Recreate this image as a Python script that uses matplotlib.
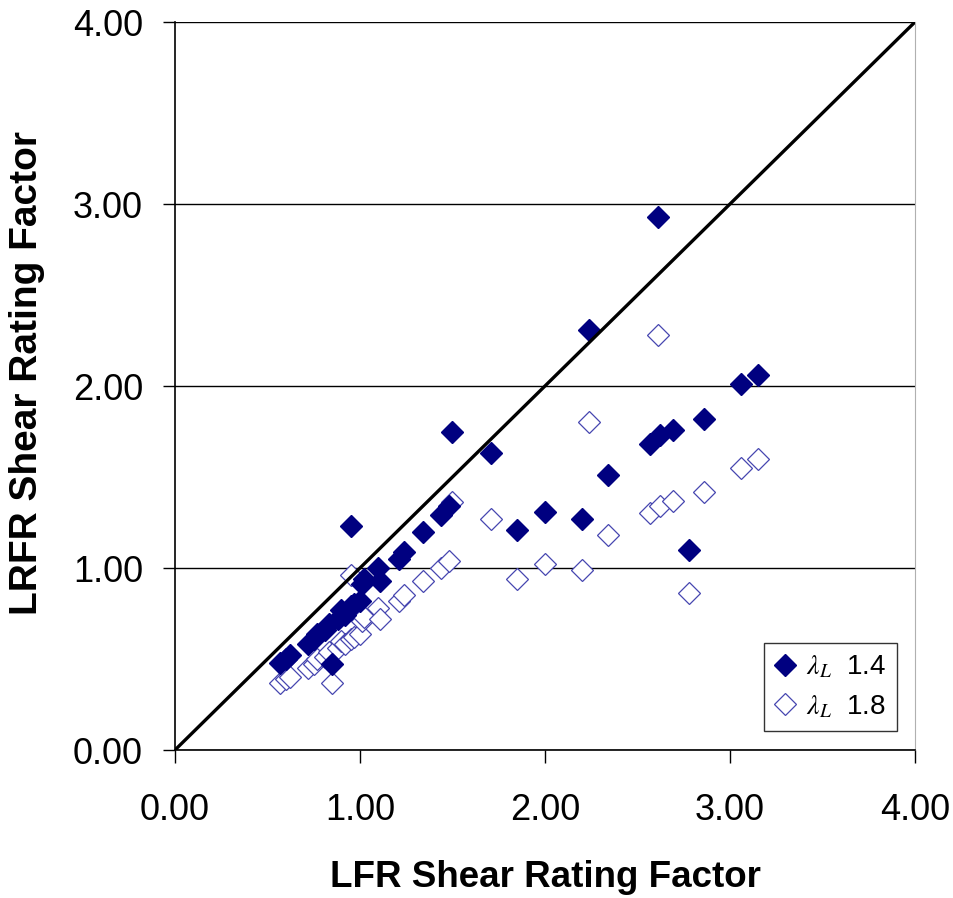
import numpy as np
import matplotlib.pyplot as plt

plt.rcParams['font.family'] = ['Liberation Sans', 'DejaVu Sans']
plt.rcParams['mathtext.fontset'] = 'stix'

# LFR shear rating factor (x) vs LRFR shear rating factor (y)
lfr_14 = [0.57, 0.60, 0.62, 0.72, 0.75, 0.77, 0.81, 0.83, 0.85, 0.88, 0.90, 0.92,
          0.95, 0.97, 1.00, 0.95, 1.01, 1.02, 1.10, 1.11, 1.21, 1.24, 1.34, 1.44,
          1.48, 1.50, 1.71, 1.85, 2.00, 2.20, 2.24, 2.34, 2.57, 2.62, 2.69, 2.61,
          2.78, 2.86, 3.06, 3.15]
lrfr_14 = [0.48, 0.50, 0.52, 0.58, 0.61, 0.64, 0.66, 0.69, 0.47, 0.72, 0.77, 0.74,
           0.79, 0.80, 0.82, 1.23, 0.91, 0.94, 1.00, 0.93, 1.05, 1.09, 1.20, 1.29,
           1.34, 1.75, 1.63, 1.21, 1.31, 1.27, 2.31, 1.51, 1.68, 1.73, 1.76, 2.93,
           1.10, 1.82, 2.01, 2.06]

lfr_18 = [0.57, 0.60, 0.62, 0.72, 0.75, 0.77, 0.81, 0.83, 0.85, 0.88, 0.90, 0.92,
          0.95, 0.97, 1.00, 0.95, 1.01, 1.02, 1.10, 1.11, 1.21, 1.24, 1.34, 1.44,
          1.48, 1.50, 1.71, 1.85, 2.00, 2.20, 2.24, 2.34, 2.57, 2.62, 2.69, 2.61,
          2.78, 2.86, 3.06, 3.15]
lrfr_18 = [0.37, 0.39, 0.40, 0.45, 0.47, 0.50, 0.51, 0.54, 0.37, 0.56, 0.60, 0.58,
           0.61, 0.62, 0.64, 0.96, 0.71, 0.73, 0.78, 0.72, 0.82, 0.85, 0.93, 1.00,
           1.04, 1.36, 1.27, 0.94, 1.02, 0.99, 1.80, 1.18, 1.30, 1.34, 1.37, 2.28,
           0.86, 1.42, 1.55, 1.60]

ticks = [0, 1, 2, 3, 4]
tick_labels = ['0.00', '1.00', '2.00', '3.00', '4.00']

fig = plt.figure(figsize=(9.54, 8.98), dpi=100)
ax = fig.add_axes([0.1834, 0.1648, 0.7757, 0.8107])

ax.plot(lfr_14, lrfr_14, linestyle='none', marker='D', markersize=11,
        color='#000080', label=r'$\lambda_L$  1.4', zorder=3)
ax.plot(lfr_18, lrfr_18, linestyle='none', marker='D', markersize=11,
        markerfacecolor='white', markeredgecolor='#4646b0', markeredgewidth=0.9,
        label=r'$\lambda_L$  1.8', zorder=2)
ax.plot([0, 4.05], [0, 4.05], color='black', linewidth=2.4, zorder=4)

ax.set_xlim(0, 4)
ax.set_ylim(0, 4)
ax.set_xticks(ticks)
ax.set_xticklabels(tick_labels)
ax.set_yticks(ticks)
ax.set_yticklabels(tick_labels)
ax.tick_params(labelsize=26, length=9, width=1, color='black')
ax.tick_params(axis='y', pad=14)
ax.tick_params(axis='x', pad=22)

ax.yaxis.grid(True, color='black', linewidth=1)
ax.set_axisbelow(True)
ax.spines['top'].set_visible(False)
ax.spines['right'].set_color('#b0b0b0')
ax.spines['left'].set_linewidth(1.2)
ax.spines['bottom'].set_linewidth(1.2)

ax.set_xlabel('LFR Shear Rating Factor', fontsize=26.5, fontweight='bold', labelpad=23)
ax.set_ylabel('LRFR Shear Rating Factor', fontsize=28, fontweight='bold')
ax.yaxis.set_label_coords(-0.176, 0.518)

leg = ax.legend(loc='lower right', fontsize=20, frameon=True, fancybox=False,
                edgecolor='black', handlelength=0.7, handletextpad=0.4,
                borderpad=0.4, labelspacing=0.45, borderaxespad=0,
                bbox_to_anchor=(0.976, 0.026))
leg.get_frame().set_linewidth(1)

fig.savefig('out.png', dpi=100)
